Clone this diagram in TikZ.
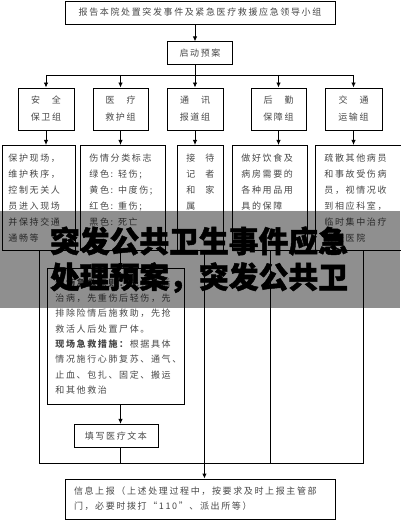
\documentclass[tikz,border=0pt]{standalone}
\usepackage{fontspec}
\newfontfamily\cjk[LetterSpace=18]{Noto Sans CJK SC}
\newfontfamily\cjkbig[BoldFeatures={FakeBold=1.6}]{Noto Sans CJK SC}
\usetikzlibrary{calc,positioning,arrows.meta}

\newcommand{\spread}[2]{\makebox[30pt]{#1\hfill#2}}
\newcommand{\boxtext}[3]{\parbox[c][#2][t]{#1}{#3}}

\begin{document}
\begin{tikzpicture}[x=1pt,y=-1pt,line width=0.9pt,
        >={Latex[length=5pt,width=4.5pt]},
        box/.style={draw, inner sep=0pt, text=black!72,
            font=\cjk\fontsize{9}{16}\selectfont},
        title/.style={box, minimum width=#1, minimum height=23pt},
        grp/.style={box, minimum width=#1, minimum height=42pt, align=center,
            font=\cjk\fontsize{9}{17}\selectfont},
        detail/.style={box, anchor=north west, inner xsep=#1, inner ysep=8pt},
        banner/.style={inner sep=0pt, text=black,
            font=\cjkbig\bfseries\fontsize{29.8}{36}\selectfont}]
        \useasboundingbox (0,0) rectangle (400,521);

        \node[title=270pt] (lead) at (200,12.5) {报告本院处置突发事件及紧急医疗救援应急领导小组};
        \node[title=65pt, below=17pt of lead] (start) {启动预案};

        \node[grp=56pt] (an) at (46,109) {\spread{安}{全}\\保卫组};
        \node[grp=55pt] (yi) at (120.5,109) {\spread{医}{疗}\\救护组};
        \node[grp=56pt] (tong) at (195,109) {\spread{通}{讯}\\报道组};
        \node[grp=55pt] (hou) at (278.5,109) {\spread{后}{勤}\\保障组};
        \node[grp=57pt] (jiao) at (353.5,109) {\spread{交}{通}\\运输组};

        \node[detail=6pt] (anD) at (2,145) {\boxtext{61pt}{89pt}{保护现场，\\维护秩序，\\控制无关人\\员进入现场\\并保持交通\\通畅等}};
        \node[detail=9pt] (yiD) at (80,145) {\boxtext{67pt}{89pt}{伤情分类标志\\绿色: 轻伤;\\黄色: 中度伤;\\红色: 重伤;\\黑色: 死亡}};
        \node[detail=9pt] (tongD) at (177,145) {\boxtext{28pt}{89pt}{接\hfill 待\\记\hfill 者\\和\hfill 家\\属}};
        \node[detail=9pt] (houD) at (232,145) {\boxtext{57pt}{89pt}{做好饮食及\\病房需要的\\各种用品用\\具的保障}};
        \node[detail=9pt] (jiaoD) at (315,145) {\boxtext{78pt}{89pt}{疏散其他病员\\和事故受伤病\\员，视情况收\\到相应科室，\\临时集中治疗\\或送医院}};

        \node[detail=8pt, font=\cjk\fontsize{9}{15.3}\selectfont] (bigD) at (47,268) {\boxtext{121pt}{120pt}{\vspace*{2pt}\textbf{现场急救原则：}先救命后\\治病，先重伤后轻伤，先\\排除险情后施救助，先抢\\救活人后处置尸体。\\\textbf{现场急救措施：}根据具体\\情况施行心肺复苏、通气、\\止血、包扎、固定、搬运\\和其他救治}};
        \node[title=84pt, below=19pt of bigD] (fill) {填写医疗文本};

        \node[box, minimum width=270pt, minimum height=40pt, text width=252pt, align=left,
            font=\cjk\fontsize{9}{15}\selectfont] (info) at (200,499)
            {信息上报（上述处理过程中，按要求及时上报主管部\\门，必要时拨打“110”、派出所等）};

        \coordinate (busT) at (0,75);
        \coordinate (busB) at (0,463);
        \coordinate (tongOut) at ($(tongD.south)+(4,0)$);

        \draw[->] (lead.south -| tong) -- (start.north -| tong);
        \draw (start.south -| tong) -- (busT -| tong);
        \draw (busT -| an) -- (busT -| jiao);
        \foreach \g in {an,yi,tong,hou,jiao}
            \draw[->] (busT -| \g) -- (\g.north);
        \foreach \g/\d in {an/anD,yi/yiD,tong/tongD,hou/houD,jiao/jiaoD}
            \draw[->] (\g.south) -- (\g.south |- \d.north);

        \draw[->] (yiD.south -| yi) -- (bigD.north -| yi);
        \draw[->] (bigD.south -| yi) -- (fill.north -| yi);

        \draw (anD.south) -- (anD.south |- busB) -- (jiaoD.south |- busB) -- (jiaoD.south);
        \draw (fill.south -| yi) -- (busB -| yi);
        \draw (tongOut) -- (busB -| tongOut);
        \draw (houD.south) -- (busB -| houD.south);
        \draw[->] (busB -| tongOut) -- (info.north -| tongOut);

        \fill[black, opacity=0.44] (0,211) rectangle (400,308);
        \node[banner] (ban1) at (199,241) {突发公共卫生事件应急};
        \node[banner, below=6pt of ban1] (ban2) {处理预案，突发公共卫};
\end{tikzpicture}
\end{document}
